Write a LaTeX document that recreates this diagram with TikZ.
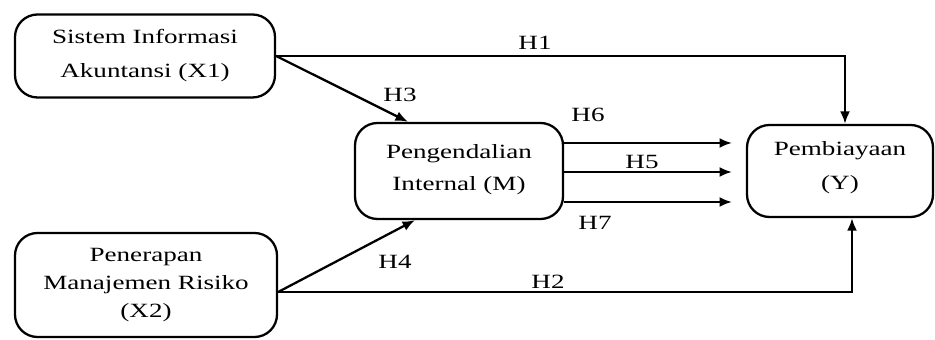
\documentclass[tikz,border=0pt]{standalone}
\usepackage{fontspec}
\setmainfont{Liberation Serif}[FakeStretch=1.34]
\usetikzlibrary{arrows.meta}

\tikzset{
  var/.style={draw, line width=1.3pt, rounded corners=4.5mm, align=center,
    text depth=0pt, font=\fontsize{11.5}{19.8}\selectfont},
  hyp/.style={line width=1.3pt, -{Latex[length=2.5mm,width=2mm]}},
  hlabel/.style={font=\fontsize{11.5}{13}\selectfont}
}

\begin{document}
\begin{tikzpicture}[x=0.2mm, y=-0.2mm]
  \useasboundingbox (0,0) rectangle (935,340);
  % Variables
  \node[var, minimum width=52mm, minimum height=16.6mm, text height=24.9pt] (x1) at (145,56)
    {Sistem Informasi\\Akuntansi (X1)};
  \node[var, minimum width=52.4mm, minimum height=20.8mm, text height=37.4pt] (x2) at (146,285)
    {Penerapan\\[-3.9pt]Manajemen Risiko\\[-3.9pt](X2)};
  \node[var, minimum width=41.6mm, minimum height=19.2mm, text height=22.7pt] (m) at (459,171)
    {Pengendalian\\[-1.1pt]Internal (M)};
  \node[var, minimum width=37.2mm, minimum height=18.4mm, text height=21.5pt] (y) at (840,171)
    {Pembiayaan\\(Y)};
  % Free ends
  \coordinate (x2o) at ([yshift=-1.4mm]x2.east);
  \coordinate (e6) at (732,143);
  \coordinate (e5) at (732,172);
  \coordinate (e7) at (732,202);
  % Hypotheses
  \draw[hyp] (x1.east) -| ([xshift=1mm]y.north);
  \draw[hyp] (x1.east) -- ([xshift=-10.2mm]m.north);
  \draw[hyp] (x2o) -- ([xshift=-8.8mm]m.south);
  \draw[hyp] (x2o) -| ([xshift=2.4mm]y.south);
  \draw[hyp] (m.east |- e6) -- (e6);
  \draw[hyp] (m.east |- e5) -- (e5);
  \draw[hyp] (m.east |- e7) -- (e7);
  % Labels
  \node[hlabel] (h1) at (535,43) {H1};
  \node[hlabel] (h2) at (548,282) {H2};
  \node[hlabel] (h3) at (400,95) {H3};
  \node[hlabel] (h4) at (395,262) {H4};
  \node[hlabel] (h5) at (642,162) {H5};
  \node[hlabel] (h6) at (588,115) {H6};
  \node[hlabel] (h7) at (595,223) {H7};
\end{tikzpicture}
\end{document}
